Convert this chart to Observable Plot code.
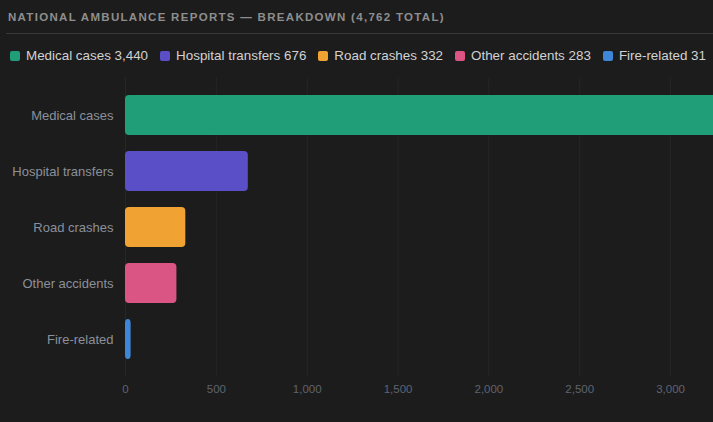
<!DOCTYPE html>
<html>
<head>
<meta charset="utf-8">
<script src="https://cdn.jsdelivr.net/npm/d3@7"></script>
<script src="https://cdn.jsdelivr.net/npm/@observablehq/plot@0.6"></script>
<style>
  html, body { margin: 0; padding: 0; background: #1c1c1c; width: 713px; height: 422px; overflow: hidden; }
  body { position: relative; font-family: "Liberation Sans", Arial, sans-serif; }
  #title { position: absolute; left: 8px; top: 11px; font-size: 11.5px; font-weight: bold; letter-spacing: 1.3px; color: #8e8e8e; white-space: nowrap; }
  #sep { position: absolute; left: 6px; top: 33px; width: 720px; height: 1px; background: #383838; }
  #legend { position: absolute; left: 10px; top: 48px; display: flex; align-items: center; white-space: nowrap; font-size: 13.4px; color: #d2d2d2; }
  .item { display: flex; align-items: center; margin-right: 12px; }
  .sw { width: 10px; height: 10px; border-radius: 2px; margin-right: 6px; }
  #chart { position: absolute; left: 0; top: 70px; width: 760px; }
  #chart svg { max-width: none !important; }
</style>
</head>
<body>
<div id="title"></div>
<div id="sep"></div>
<div id="legend"></div>
<div id="chart"></div>
<script>
const categories = ["Medical cases", "Hospital transfers", "Road crashes", "Other accidents", "Fire-related"];
const counts = [3440, 676, 332, 283, 31];
const colors = ["#1f9e78", "#5a4fc6", "#f0a232", "#da5583", "#3d86d8"];
const xTicks = [0, 500, 1000, 1500, 2000, 2500, 3000];
const titleText = "NATIONAL AMBULANCE REPORTS — BREAKDOWN (4,762 TOTAL)";

const data = categories.map((c, i) => ({category: c, count: counts[i], color: colors[i]}));

document.getElementById("title").textContent = titleText;
const legend = document.getElementById("legend");
data.forEach(d => {
  const it = document.createElement("div");
  it.className = "item";
  const sw = document.createElement("div");
  sw.className = "sw";
  sw.style.background = d.color;
  const tx = document.createElement("span");
  tx.textContent = `${d.category} ${d3.format(",")(d.count)}`;
  it.appendChild(sw);
  it.appendChild(tx);
  legend.appendChild(it);
});

const plot = Plot.plot({
  width: 760,
  height: 337,
  marginLeft: 125,
  marginRight: 10,
  marginTop: 7.5,
  marginBottom: 30.5,
  style: { background: "transparent", fontFamily: "Liberation Sans, Arial, sans-serif", maxWidth: "none" },
  x: { domain: [0, 3440], ticks: xTicks, tickFormat: d3.format(","), label: null },
  y: { domain: categories, padding: 0.292, label: null },
  color: { domain: categories, range: colors },
  marks: [
    Plot.ruleX(xTicks, { stroke: "#262626", strokeWidth: 1 }),
    Plot.barX(data, { x: "count", y: "category", fill: "category", rx: 4 }),
    Plot.axisY({ tickSize: 0, tickPadding: 12, fontSize: 13, color: "#8b909b", label: null }),
    Plot.axisX({ ticks: xTicks, tickFormat: d3.format(","), tickSize: 0, tickPadding: 8, fontSize: 11.5, color: "#5f6370", label: null })
  ]
});
document.getElementById("chart").appendChild(plot);
</script>
</body>
</html>
